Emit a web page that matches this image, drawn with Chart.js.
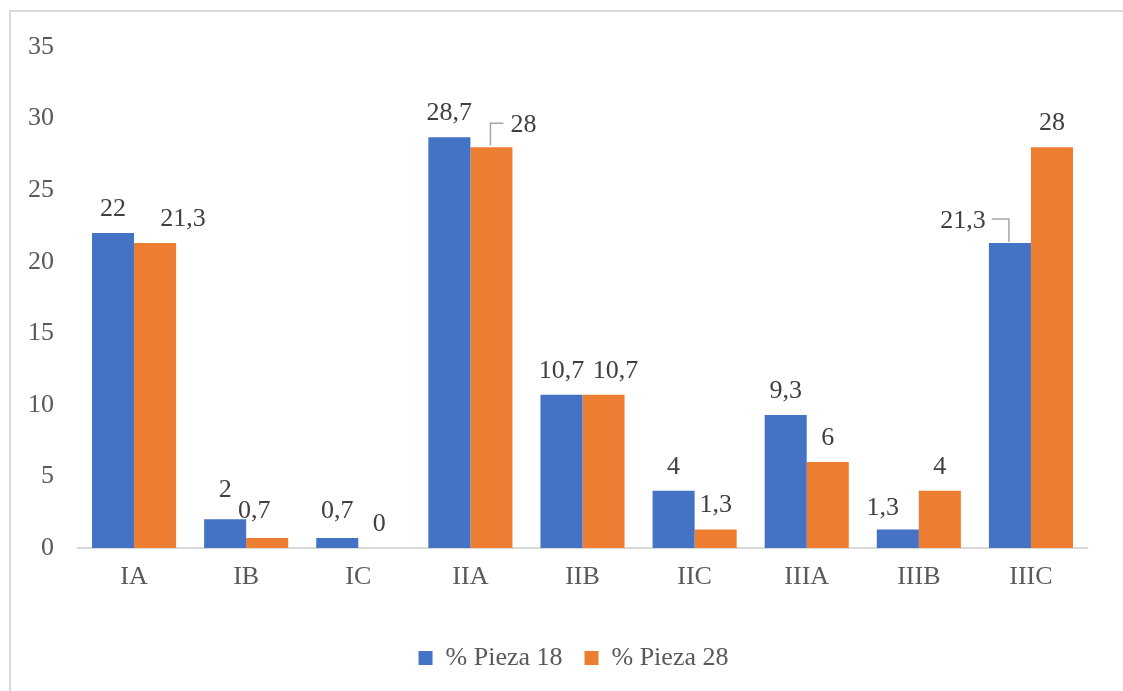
<!DOCTYPE html>
<html>
<head>
<meta charset="utf-8">
<script src="https://cdn.jsdelivr.net/npm/chart.js@4.4.1/dist/chart.umd.min.js"></script>
<style>
  html, body { margin: 0; padding: 0; background: #fff; }
  #wrap { position: relative; width: 1123px; height: 691px; }
  #frame { position: absolute; left: 9px; top: 10px; right: -10px; bottom: -10px;
           border: 2px solid #d9d9d9; pointer-events: none; }
</style>
</head>
<body>
<div id="wrap">
  <canvas id="chart"></canvas>
  <div id="frame"></div>
</div>
<script>
  "use strict";
  const categories = ["IA", "IB", "IC", "IIA", "IIB", "IIC", "IIIA", "IIIB", "IIIC"];
  const pieza18 = [22, 2, 0.7, 28.7, 10.7, 4, 9.3, 1.3, 21.3];
  const pieza28 = [21.3, 0.7, 0, 28, 10.7, 1.3, 6, 4, 28];
  const seriesNames = ["% Pieza 18", "% Pieza 28"];
  const seriesColors = ["#4472C4", "#ED7D31"];

  const SERIF = "'Liberation Serif', 'Times New Roman', serif";

  // nudges for labels that Excel moved off their default spot: [dx, dy, leader side]
  const nudges = {
    "1-0": [28, 0],
    "0-1": [0, -5],
    "1-1": [-13, -3],
    "0-2": [0, -3],
    "1-3": [32, 2, "left"],
    "1-4": [12, 0],
    "0-7": [-15, 3],
    "0-8": [-47, 2, "right"],
  };

  const fmt = (v) => String(v).replace(".", ",");

  const barLabels = {
    id: "barLabels",
    afterDatasetsDraw(chart) {
      const ctx = chart.ctx;
      ctx.save();
      ctx.font = "26px " + SERIF;
      ctx.fillStyle = "#404040";
      ctx.textAlign = "center";
      ctx.textBaseline = "alphabetic";
      chart.data.datasets.forEach((ds, di) => {
        const meta = chart.getDatasetMeta(di);
        meta.data.forEach((bar, i) => {
          const n = nudges[di + "-" + i] || [0, 0];
          const txt = fmt(ds.data[i]);
          const cx = bar.x + n[0];
          const base = bar.y - 17 + n[1];
          ctx.fillText(txt, cx, base);
          if (n[2]) {
            const w = ctx.measureText(txt).width;
            const mid = base - 9;
            ctx.beginPath();
            ctx.strokeStyle = "#a6a6a6";
            ctx.lineWidth = 1.5;
            if (n[2] === "left") {
              ctx.moveTo(bar.x - 1, bar.y - 2);
              ctx.lineTo(bar.x - 1, mid);
              ctx.lineTo(cx - w / 2 - 7, mid);
            } else {
              ctx.moveTo(cx + w / 2 + 6, mid);
              ctx.lineTo(bar.x - 1, mid);
              ctx.lineTo(bar.x - 1, bar.y - 1);
            }
            ctx.stroke();
          }
        });
      });
      ctx.restore();
    },
  };

  // Excel centres the legend a little right of the canvas middle
  const legendShift = {
    id: "legendShift",
    afterLayout(chart) {
      const lg = chart.legend;
      if (!lg) return;
      lg.left += 60;
      lg.width -= 60;
    },
  };

  new Chart(document.getElementById("chart"), {
    type: "bar",
    data: {
      labels: categories,
      datasets: [
        { label: seriesNames[0], data: pieza18, backgroundColor: seriesColors[0] },
        { label: seriesNames[1], data: pieza28, backgroundColor: seriesColors[1] },
      ],
    },
    options: {
      responsive: true,
      maintainAspectRatio: false,
      animation: false,
      datasets: { bar: { categoryPercentage: 0.75, barPercentage: 1.0, borderWidth: 0 } },
      layout: { padding: { top: 47, right: 36, left: 0, bottom: 10 } },
      scales: {
        x: {
          grid: { display: false, drawTicks: false },
          border: { display: true, color: "#d9d9d9", width: 2 },
          ticks: { color: "#595959", font: { family: SERIF, size: 26 }, padding: 14 },
          afterFit: (s) => { s.height = 75; },
        },
        y: {
          min: 0,
          max: 35,
          grid: { display: false, drawTicks: false },
          border: { display: false },
          ticks: { stepSize: 5, color: "#595959", font: { family: SERIF, size: 26 }, padding: 24 },
          afterFit: (s) => { s.width = 78; },
        },
      },
      plugins: {
        legend: {
          position: "bottom",
          maxHeight: 58,
          labels: {
            color: "#595959",
            font: { family: SERIF, size: 26 },
            boxWidth: 14,
            boxHeight: 14,
            padding: 22,
          },
        },
        tooltip: { enabled: false },
      },
    },
    plugins: [barLabels, legendShift],
  });
</script>
</body>
</html>
